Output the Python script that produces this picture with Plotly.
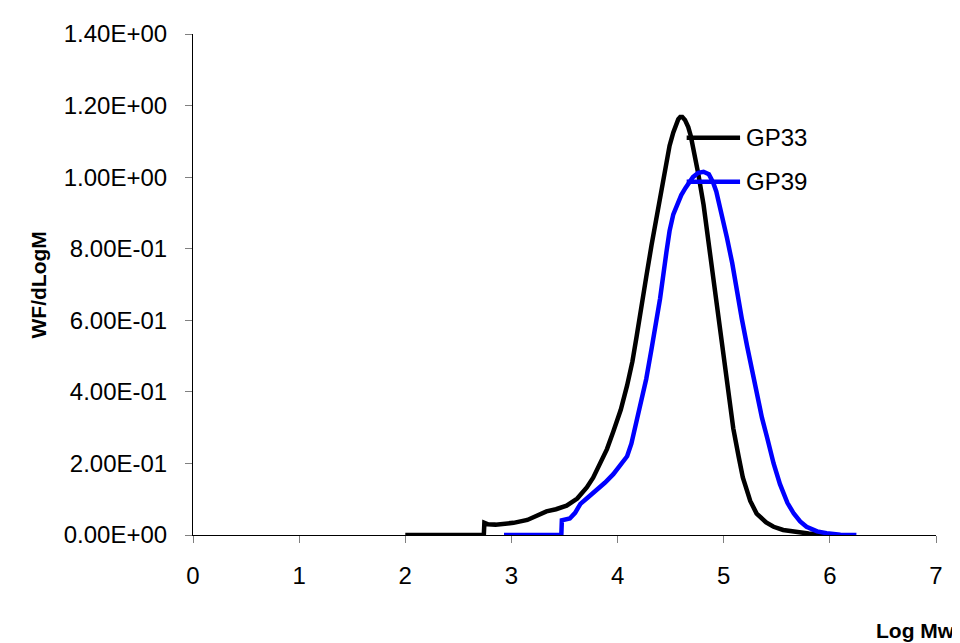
import plotly.graph_objects as go

# ---- data ----
series_names = ["GP33", "GP39"]

gp33_logmw = [2.00, 2.74, 2.745, 2.78, 2.85, 2.93, 3.02, 3.15, 3.25, 3.33, 3.42, 3.52,
              3.62, 3.71, 3.77, 3.83, 3.90, 3.96, 4.03, 4.09, 4.14, 4.18, 4.23, 4.27,
              4.32, 4.37, 4.42, 4.46, 4.49, 4.525, 4.55, 4.572, 4.59, 4.61, 4.635, 4.666,
              4.69, 4.71, 4.76, 4.81, 4.86, 4.90, 4.95, 5.00, 5.05, 5.09, 5.14, 5.18,
              5.25, 5.31, 5.40, 5.47, 5.56, 5.66, 5.80, 5.91, 6.00]
gp33_wf = [0.000, 0.000, 0.034, 0.030, 0.029, 0.030, 0.034, 0.042, 0.055, 0.066, 0.072, 0.082,
           0.102, 0.133, 0.160, 0.197, 0.240, 0.289, 0.350, 0.418, 0.485, 0.556, 0.640, 0.721,
           0.810, 0.896, 0.975, 1.042, 1.088, 1.125, 1.148, 1.162, 1.168, 1.168, 1.160, 1.140,
           1.115, 1.088, 1.010, 0.923, 0.812, 0.703, 0.590, 0.482, 0.385, 0.298, 0.220, 0.161,
           0.095, 0.060, 0.035, 0.023, 0.014, 0.009, 0.004, 0.002, 0.000]

gp39_logmw = [2.93, 3.47, 3.475, 3.52, 3.55, 3.60, 3.65, 3.72, 3.80, 3.88, 3.96, 4.03,
              4.09, 4.13, 4.18, 4.23, 4.27, 4.32, 4.37, 4.40, 4.46, 4.49, 4.525, 4.56,
              4.60, 4.64, 4.68, 4.71, 4.76, 4.81, 4.86, 4.90, 4.93, 4.98, 5.03, 5.08,
              5.12, 5.17, 5.22, 5.27, 5.31, 5.36, 5.41, 5.47, 5.53, 5.60, 5.66, 5.72,
              5.78, 5.88, 5.97, 6.10, 6.25]
gp39_wf = [0.000, 0.000, 0.041, 0.043, 0.046, 0.062, 0.087, 0.105, 0.124, 0.146, 0.170, 0.195,
           0.220, 0.255, 0.317, 0.375, 0.436, 0.520, 0.611, 0.660, 0.790, 0.850, 0.896, 0.925,
           0.950, 0.970, 0.988, 1.000, 1.012, 1.015, 1.008, 0.985, 0.960, 0.900, 0.831, 0.760,
           0.684, 0.605, 0.528, 0.455, 0.390, 0.328, 0.271, 0.200, 0.142, 0.090, 0.060, 0.038,
           0.023, 0.010, 0.005, 0.001, 0.000]

x_tick_values = [0, 1, 2, 3, 4, 5, 6, 7]
x_tick_labels = ["0", "1", "2", "3", "4", "5", "6", "7"]
y_tick_values = [0.0, 0.2, 0.4, 0.6, 0.8, 1.0, 1.2, 1.4]
y_tick_labels = ["0.00E+00", "2.00E-01", "4.00E-01", "6.00E-01",
                 "8.00E-01", "1.00E+00", "1.20E+00", "1.40E+00"]

# ---- figure ----
FONT = "Arial, Liberation Sans, sans-serif"
colors = ["#000000", "#0000FF"]

fig = go.Figure()
for name, xs, ys, c in [(series_names[0], gp33_logmw, gp33_wf, colors[0]),
                        (series_names[1], gp39_logmw, gp39_wf, colors[1])]:
    fig.add_trace(go.Scatter(x=xs, y=ys, mode="lines", name=name,
                             line=dict(color=c, width=4.5), showlegend=False))

# label leader lines + texts (legend entries placed in the plot)
label_rows = [1.11, 0.987]
for name, yv, c in zip(series_names, label_rows, colors):
    fig.add_shape(type="line", xref="x", yref="y", x0=4.651, x1=5.154, y0=yv, y1=yv,
                  line=dict(color=c, width=4.5), layer="above")
    fig.add_annotation(x=5.19, y=yv, xref="x", yref="y", text=name, showarrow=False,
                       xanchor="left", yanchor="middle",
                       font=dict(family=FONT, size=24, color="#000000"))

fig.add_annotation(text="<b>Log Mw</b>", xref="paper", yref="paper", x=1.028, y=-0.191,
                   xanchor="right", yanchor="middle", showarrow=False,
                   font=dict(family=FONT, size=21, color="#000000"))
fig.add_annotation(text="<b>WF/dLogM</b>", xref="paper", yref="paper", x=-0.2086, y=0.498,
                   xanchor="center", yanchor="middle", textangle=-90, showarrow=False,
                   font=dict(family=FONT, size=21, color="#000000"))

# page body has an 8px margin, so the figure is 8px smaller and offset
fig.update_layout(
    width=952, height=635,
    margin=dict(l=185, r=24, t=19, b=108),
    paper_bgcolor="white", plot_bgcolor="white",
    font=dict(family=FONT, size=24, color="#000000"),
    xaxis=dict(range=[0, 7], tickvals=x_tick_values, ticktext=x_tick_labels,
               showgrid=False, zeroline=False, showline=True, linecolor="#000000",
               linewidth=1, ticks="outside", ticklen=7, tickcolor="#808080",
               ticklabelstandoff=12, tickfont=dict(family=FONT, size=24)),
    yaxis=dict(range=[0, 1.4], tickvals=y_tick_values, ticktext=y_tick_labels,
               showgrid=False, zeroline=False, showline=True, linecolor="#000000",
               linewidth=1, ticks="outside", ticklen=7, tickcolor="#808080",
               ticklabelstandoff=13, tickfont=dict(family=FONT, size=24)),
)

fig.write_html("out.html")
